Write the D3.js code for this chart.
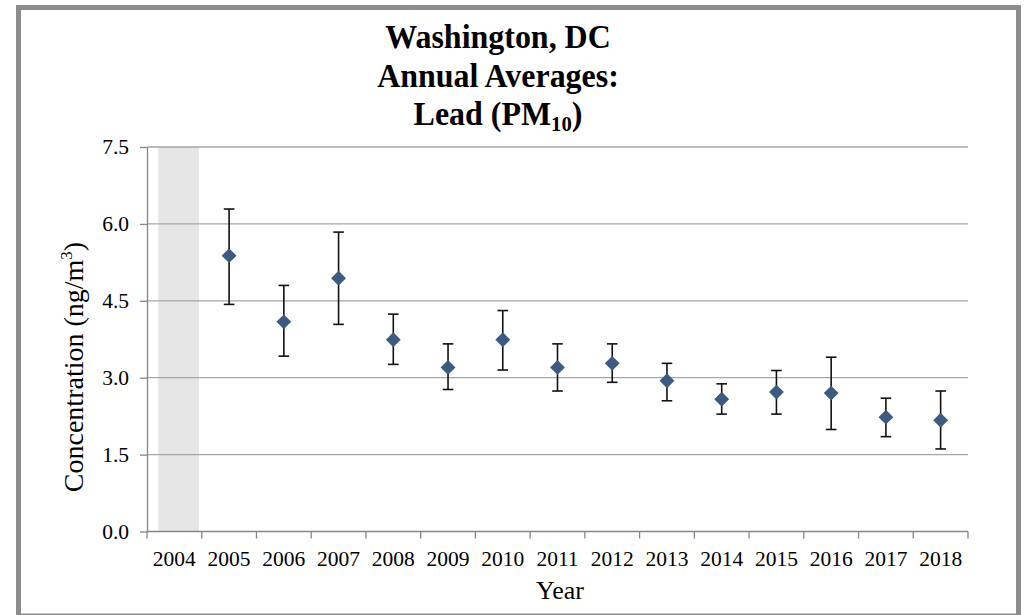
<!DOCTYPE html>
<html>
<head>
<meta charset="utf-8">
<script src="https://cdn.jsdelivr.net/npm/d3@7"></script>
<style>
  html, body { margin: 0; padding: 0; background: #fff; }
  svg { display: block; }
  text { font-family: "Liberation Serif", "Times New Roman", serif; fill: #000; }
</style>
</head>
<body>
<svg id="chart" width="1026" height="615"></svg>
<script>
// Lead (PM10) annual averages, Washington DC, with error bars
const years = ["2004", "2005", "2006", "2007", "2008", "2009", "2010", "2011",
               "2012", "2013", "2014", "2015", "2016", "2017", "2018"];
const means = [null, 5.38, 4.09, 4.94, 3.74, 3.20, 3.74, 3.20,
               3.28, 2.94, 2.58, 2.72, 2.70, 2.23, 2.17];
const lower = [null, 4.43, 3.42, 4.04, 3.26, 2.77, 3.15, 2.74,
               2.91, 2.55, 2.29, 2.29, 1.99, 1.85, 1.61];
const upper = [null, 6.29, 4.80, 5.84, 4.24, 3.66, 4.31, 3.66,
               3.66, 3.28, 2.88, 3.14, 3.40, 2.60, 2.74];
const noDataYears = ["2004"];
const yTicks = [0, 1.5, 3.0, 4.5, 6.0, 7.5];
const titleLines = ["Washington, DC", "Annual Averages:"];

const svg = d3.select("#chart");
const plotLeft = 147, plotRight = 968, plotTop = 147, plotBottom = 531.5;

const x = d3.scaleBand().domain(years).range([plotLeft, plotRight]).padding(0);
const y = d3.scaleLinear().domain([0, 7.5]).range([plotBottom, plotTop]);

// outer frame
svg.append("rect")
  .attr("x", 18.5).attr("y", 7.5).attr("width", 1000).attr("height", 608.5)
  .attr("fill", "none").attr("stroke", "#8c8c8c").attr("stroke-width", 5);

// shaded band for the year without data
svg.append("g").selectAll("rect").data(noDataYears).join("rect")
  .attr("x", d => x(d) + x.bandwidth() * 0.205)
  .attr("width", x.bandwidth() * 0.745)
  .attr("y", y(7.5))
  .attr("height", y(0) - y(7.5))
  .attr("fill", "#e6e6e6");

// horizontal gridlines
svg.append("g").selectAll("line").data(yTicks.filter(t => t > 0)).join("line")
  .attr("x1", plotLeft).attr("x2", plotRight)
  .attr("y1", d => y(d)).attr("y2", d => y(d))
  .attr("stroke", "#a6a6a6").attr("stroke-width", 1.3);

// y axis
const yAxis = svg.append("g")
  .attr("transform", `translate(${plotLeft},0)`)
  .call(d3.axisLeft(y).tickValues(yTicks).tickFormat(d3.format(".1f"))
        .tickSize(7).tickPadding(11).tickSizeOuter(0));
yAxis.select(".domain").attr("stroke", "#868686").attr("stroke-width", 1.3);
yAxis.selectAll(".tick line").attr("stroke", "#868686").attr("stroke-width", 1.3);
yAxis.selectAll(".tick text")
  .attr("font-size", 21.5).attr("fill", "#111")
  .style("font-family", '"Liberation Serif", "Times New Roman", serif');

// x axis: ticks on category boundaries, labels centred in each category
const xg = svg.append("g").attr("transform", `translate(0,${plotBottom})`);
xg.append("line").attr("x1", plotLeft).attr("x2", plotRight)
  .attr("stroke", "#868686").attr("stroke-width", 1.3);
const bounds = years.map(d => x(d)).concat([plotRight]);
xg.selectAll("line.tk").data(bounds).join("line").attr("class", "tk")
  .attr("x1", d => d).attr("x2", d => d).attr("y1", 0).attr("y2", 7)
  .attr("stroke", "#868686").attr("stroke-width", 1.3);
xg.selectAll("text").data(years).join("text")
  .attr("x", d => x(d) + x.bandwidth() / 2)
  .attr("y", 34)
  .attr("text-anchor", "middle")
  .attr("font-size", 21.5).attr("fill", "#111")
  .text(d => d);

// error bars
const pts = years.map((yr, i) => ({ yr, m: means[i], lo: lower[i], hi: upper[i] }))
  .filter(d => d.m !== null);
const cx = d => x(d.yr) + x.bandwidth() / 2;
const eb = svg.append("g").attr("stroke", "#111").attr("stroke-width", 1.6);
eb.selectAll("line.v").data(pts).join("line").attr("class", "v")
  .attr("x1", cx).attr("x2", cx).attr("y1", d => y(d.hi)).attr("y2", d => y(d.lo));
eb.selectAll("line.h").data(pts).join("line").attr("class", "h")
  .attr("x1", d => cx(d) - 5.3).attr("x2", d => cx(d) + 5.3)
  .attr("y1", d => y(d.hi)).attr("y2", d => y(d.hi));
eb.selectAll("line.l").data(pts).join("line").attr("class", "l")
  .attr("x1", d => cx(d) - 5.3).attr("x2", d => cx(d) + 5.3)
  .attr("y1", d => y(d.lo)).attr("y2", d => y(d.lo));

// diamond markers
const diamond = d3.symbol().type(d3.symbolSquare).size(110);
svg.append("g").selectAll("path").data(pts).join("path")
  .attr("d", diamond)
  .attr("transform", d => `translate(${cx(d)},${y(d.m)}) rotate(45)`)
  .attr("fill", "#3d5a80");

// title
const tg = svg.append("g").attr("transform", "translate(498,0) scale(0.94,1)");
tg.selectAll("text.t").data(titleLines).join("text").attr("class", "t")
  .attr("x", 0).attr("y", (d, i) => 48 + i * 39)
  .attr("text-anchor", "middle").attr("font-size", 34).attr("font-weight", "bold")
  .text(d => d);
const t3 = tg.append("text").attr("x", 0).attr("y", 125)
  .attr("text-anchor", "middle").attr("font-size", 34).attr("font-weight", "bold");
t3.append("tspan").text("Lead (PM");
t3.append("tspan").attr("font-size", 22).attr("dy", 6).text("10");
t3.append("tspan").attr("dy", -6).text(")");

// axis titles
svg.append("text")
  .attr("x", 560).attr("y", 599)
  .attr("text-anchor", "middle").attr("font-size", 26)
  .text("Year");
const yt = svg.append("text")
  .attr("transform", "translate(83,367) rotate(-90)")
  .attr("text-anchor", "middle").attr("font-size", 28);
yt.append("tspan").text("Concentration (ng/m");
yt.append("tspan").attr("font-size", 17).attr("dy", -11).text("3");
yt.append("tspan").attr("dy", 11).text(")");
</script>
</body>
</html>
